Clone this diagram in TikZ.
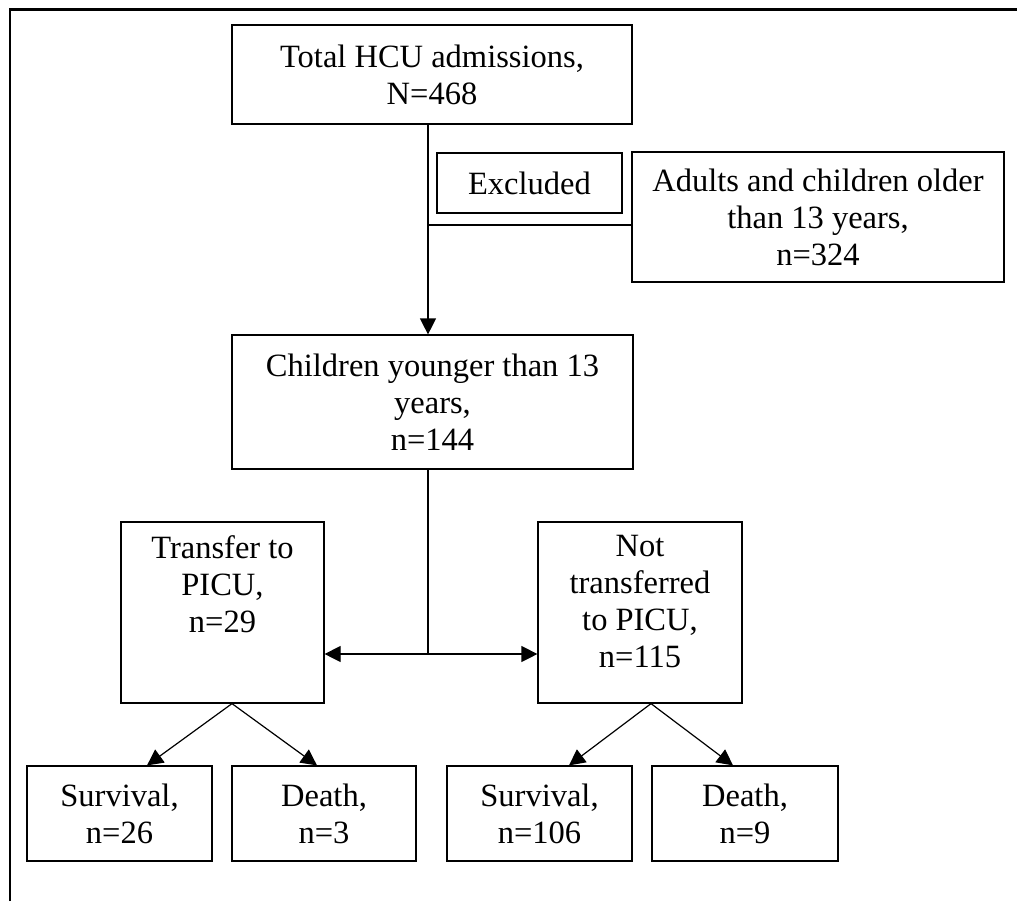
\documentclass[tikz,border=0pt]{standalone}
\usepackage{fontspec}
\setmainfont{Liberation Serif}
\usetikzlibrary{arrows.meta,calc}
\tikzset{
  lbl/.style={inner sep=0pt, align=center, font=\fontsize{16.25}{18.5}\selectfont},
  box/.style={lbl, draw, line width=0.6pt},
  conn/.style={line width=0.6pt},
  arr/.style={conn, -{Triangle[length=8pt,width=8pt]}},
}
\begin{document}
\begin{tikzpicture}[x=0.5pt,y=-0.5pt]
\useasboundingbox (0,0) rectangle (1017,901);
% outer frame (left and top only)
\draw[line width=1.3pt] (10,901) -- (10,9.5) -- (1017,9.5);

\node[box, minimum width=200pt, minimum height=49.5pt] (top) at (432,74.5) {Total HCU admissions,\\N=468};
\node[box, minimum width=92.5pt, minimum height=30pt] (excl) at (529.5,183) {Excluded};
\node[box, minimum width=186pt, minimum height=65pt] (adults) at (818,217) {Adults and children older\\than 13 years,\\n=324};
\node[box, minimum width=200.5pt, minimum height=67pt] (child) at (432.5,402) {Children younger than 13\\years,\\n=144};
\node[box, minimum width=101.5pt, minimum height=90.5pt] (tp) at (222.5,612.5) {};
\node[lbl, anchor=north] (tptext) at (222.5,535) {Transfer to\\PICU,\\n=29};
\node[box, minimum width=102pt, minimum height=90.5pt] (np) at (640,612.5) {};
\node[lbl, anchor=north] (nptext) at (640,535) {Not\\transferred\\to PICU,\\n=115};
\node[box, minimum width=92.5pt, minimum height=47.5pt] (s26) at (119.5,813.5) {Survival,\\n=26};
\node[box, minimum width=92pt, minimum height=47.5pt] (d3) at (324,813.5) {Death,\\n=3};
\node[box, minimum width=92.5pt, minimum height=47.5pt] (s106) at (539.5,813.5) {Survival,\\n=106};
\node[box, minimum width=93pt, minimum height=47.5pt] (d9) at (745,813.5) {Death,\\n=9};

% connectors
\coordinate (vx) at (428,0);
\draw[arr] (top.south -| vx) -- (child.north -| vx);
\coordinate (j1) at (428,225);
\draw[conn] (j1) -- (j1 -| adults.west);
\coordinate (j2) at (428,654);
\draw[conn] (child.south -| vx) -- (j2);
\draw[arr] (j2) -- (j2 -| tp.east);
\draw[arr] (j2) -- (j2 -| np.west);

\coordinate (sp1) at ($(tp.south)+(9.5,0)$);
\coordinate (sp2) at ($(np.south)+(11,0)$);
\draw[arr] (sp1) -- ($(s26.north)+(27.5,0)$);
\draw[arr] (sp1) -- ($(d3.north)+(-7,0)$);
\draw[arr] (sp2) -- ($(s106.north)+(29.5,0)$);
\draw[arr] (sp2) -- ($(d9.north)+(-12,0)$);
\end{tikzpicture}
\end{document}
